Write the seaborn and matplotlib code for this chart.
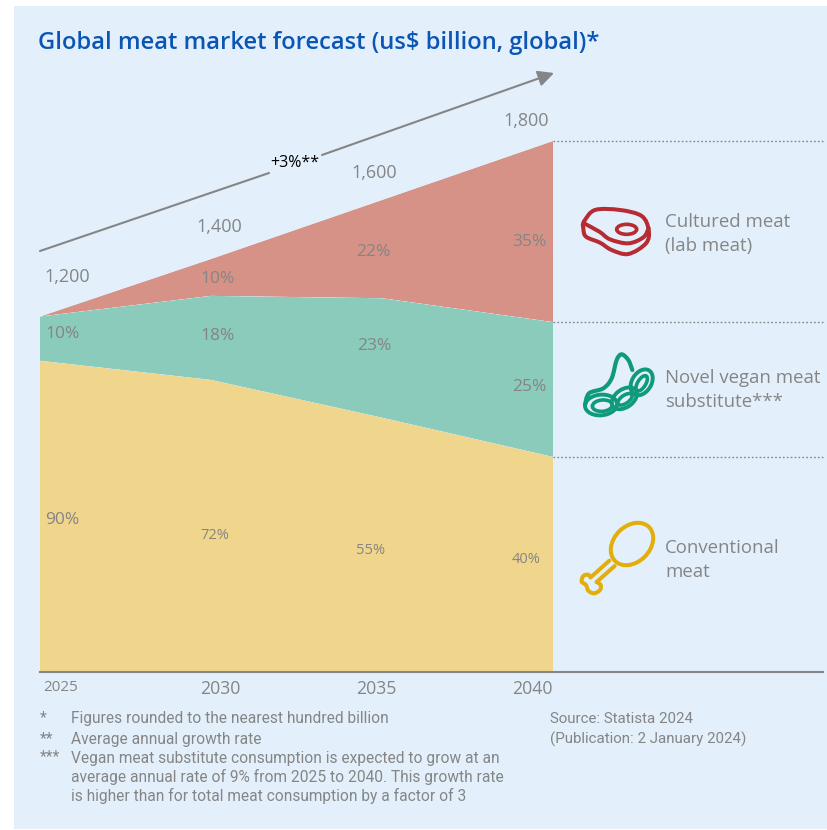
import numpy as np
import pandas as pd
import matplotlib
matplotlib.use("Agg")
import matplotlib.pyplot as plt
from matplotlib.patches import Rectangle, Ellipse, PathPatch
from matplotlib.path import Path
from matplotlib.transforms import ScaledTranslation
import seaborn as sns
import seaborn.objects as so

years = [2025, 2030, 2035, 2040]
year_labels = ["2025", "2030", "2035", "2040"]
conventional = [1055, 990, 862, 729]
vegan = [150, 285, 405, 457]
cultured = [0, 125, 333, 614]
totals = ["1,200", "1,400", "1,600", "1,800"]
pct_conventional = ["90%", "72%", "55%", "40%"]
pct_vegan = ["10%", "18%", "23%", "25%"]
pct_cultured = ["", "10%", "22%", "35%"]
series_names = ["Conventional meat", "Novel vegan meat substitute", "Cultured meat"]
series_colors = ["#F0D58C", "#8ACBBC", "#D69287"]

BG = "#E3F0FC"
GREY = "#858585"
BLUE = "#0B55B5"
W, H = 827, 830
sns.set_theme(style="white")
plt.rcParams["font.family"] = ["Open Sans", "DejaVu Sans"]

fig = plt.figure(figsize=(W / 100, H / 100), dpi=100, facecolor="white")

bg = fig.add_axes([0, 0, 1, 1], zorder=-1)
bg.set_xlim(0, W); bg.set_ylim(H, 0); bg.axis("off")
bg.add_patch(Rectangle((14, 6), W - 14, H - 7, fc=BG, ec="none"))

# chart axes: 2025 at x=40, 2040 at x=553, baseline to x=823
x0, x1, xr, ytop, ybot = 40, 553, 823, 141, 672
ax = fig.add_axes([x0 / W, 1 - ybot / H, (xr - x0) / W, (ybot - ytop) / H], zorder=1)
xmax = 2025 + 15 * (xr - x0) / (x1 - x0)

df = pd.DataFrame({
    "year": years * 3,
    "value": conventional + vegan + cultured,
    "series": np.repeat(series_names, 4),
})
(so.Plot(df, x="year", y="value", color="series")
   .add(so.Area(alpha=1, edgewidth=0), so.Stack())
   .scale(color=dict(zip(series_names, series_colors)))
   .limit(x=(2025, xmax), y=(0, 1800))
   .on(ax).plot())
fig.legends.clear()
ax.patch.set_alpha(0)

sns.despine(ax=ax, left=True, top=True, right=True)
ax.spines["bottom"].set_color(GREY)
ax.spines["bottom"].set_linewidth(1.5)
ax.set_xlabel(""); ax.set_ylabel("")
ax.set_yticks([])
ax.grid(False)
ax.set_xticks(years, year_labels)
ax.tick_params(axis="x", length=0, pad=6, labelcolor=GREY, labelsize=12.5)
offsets = [21, 9, -6, -21]
sizes = [11, 12.7, 12.7, 12.7]
for lab, dx, s in zip(ax.get_xticklabels(), offsets, sizes):
    lab.set_transform(lab.get_transform() + ScaledTranslation(dx / 100, 0, fig.dpi_scale_trans))
    lab.set_fontsize(s)

# dotted leader lines at the 2040 stack tops
tops = np.cumsum([conventional[-1], vegan[-1], cultured[-1]])
ax.hlines(tops, 2040, xmax, colors=GREY, linestyles=(0, (1.2, 1.6)), lw=1, clip_on=False)

# overlay in reference pixel coordinates for annotations and icons
ov = fig.add_axes([0, 0, 1, 1], zorder=2)
ov.set_xlim(0, W); ov.set_ylim(H, 0); ov.axis("off")

def label(xpx, ypx, s, size=12.5, color=GREY, **kw):
    ov.text(xpx, ypx + 1.5, s, fontsize=size, color=color, va="center", zorder=5, **kw)

for xp, yp, s in zip([44, 196, 351, 503], [275, 225, 171, 120], totals):
    label(xp, yp, s, 13)
for xp, yp, s, sz in zip([45, 200, 356, 512], [518, 534, 549, 558], pct_conventional, [12.5, 10.5, 10.5, 10.5]):
    label(xp, yp, s, sz)
for xp, yp, s in zip([45, 200, 357, 512], [332, 334, 344, 385], pct_vegan):
    label(xp, yp, s)
for xp, yp, s in zip([200, 356, 512], [277, 250, 240], pct_cultured[1:]):
    label(xp, yp, s)

# title
ov.text(38, 43, "Global meat market forecast (us$ billion, global)*", fontsize=17.15,
        color=BLUE, fontweight="semibold", va="center")

# growth arrow, broken around its label
ov.plot([40, 269], [251, 173], color=GREY, lw=1.5)
ov.annotate("", xy=(554, 73), xytext=(322, 155),
            arrowprops=dict(arrowstyle="-|>,head_length=0.8,head_width=0.4", color=GREY, lw=1.5,
                            shrinkA=0, shrinkB=0))
ov.text(270, 163, "+3%**", fontsize=11.5, color="black", va="center")

# category labels
label(665, 220, "Cultured meat", 13.4)
label(665, 244, "(lab meat)", 13.4)
label(665, 376, "Novel vegan meat", 13.4)
label(665, 400, "substitute***", 13.4)
label(665, 546, "Conventional", 13.4)
label(665, 570, "meat", 13.4)

# footnotes
fn = dict(fontsize=11.2, color=GREY, family=["Roboto", "DejaVu Sans"], va="center")
src = dict(fn, fontsize=10.9)
ov.text(40, 718, "*", **fn)
ov.text(40, 739, "**", **fn)
ov.text(40, 757, "***", **fn)
ov.text(71, 718, "Figures rounded to the nearest hundred billion", **fn)
ov.text(71, 739, "Average annual growth rate", **fn)
ov.text(71, 758, "Vegan meat substitute consumption is expected to grow at an", **fn)
ov.text(71, 777, "average annual rate of 9% from 2025 to 2040. This growth rate", **fn)
ov.text(71, 796, "is higher than for total meat consumption by a factor of 3", **fn)
ov.text(550, 719, "Source: Statista 2024", **src)
ov.text(550, 739, "(Publication: 2 January 2024)", **src)

# icons
def smooth(points, closed=False):
    p = np.asarray(points, float)
    n = len(p)
    verts = [p[0]]; codes = [Path.MOVETO]
    rng = range(n if closed else n - 1)
    for i in rng:
        p0 = p[(i - 1) % n] if closed or i > 0 else p[i]
        p1, p2 = p[i], p[(i + 1) % n]
        p3 = p[(i + 2) % n] if closed or i + 2 < n else p2
        verts += [p1 + (p2 - p0) / 6, p2 - (p3 - p1) / 6, p2]
        codes += [Path.CURVE4] * 3
    return Path(verts, codes)

def curve(points, color, lw=2.9, closed=False):
    ov.add_patch(PathPatch(smooth(points, closed), fc="none", ec=color, lw=lw, capstyle="round", zorder=4))

def z(ox, oy, pts):
    return [(ox + a / 3, oy + b / 3) for a, b in pts]

RED, GREEN, GOLD = "#B72B33", "#0F9A7A", "#E2AE0C"
# steak
curve(z(560, 180, [(72, 125), (105, 90), (180, 90), (245, 108), (266, 150), (258, 190),
                   (205, 222), (155, 210), (120, 188), (78, 170), (70, 145)]), RED, closed=True)
curve(z(560, 180, [(72, 130), (118, 155), (150, 178), (205, 190), (250, 172), (266, 145)]), RED)
ov.add_patch(Ellipse((560 + 200 / 3, 180 + 148 / 3), 20, 10, fc="none", ec=RED, lw=2.6, zorder=4))
# beans
curve(z(575, 345, [(30, 180), (42, 145), (85, 130), (110, 100), (125, 45), (140, 28), (160, 45), (172, 75)]), GREEN, lw=3)
for cx, cy, w, h, ang in [(78, 180, 96, 62, -5), (148, 160, 84, 54, -35), (200, 112, 84, 58, -58)]:
    ov.add_patch(Ellipse((575 + cx / 3, 345 + cy / 3), w / 3, h / 3, angle=ang, fc="none", ec=GREEN, lw=2.8, zorder=4))
for cx, cy, w, h, ang in [(82, 182, 60, 34, -5), (150, 163, 50, 24, -35), (200, 115, 52, 24, -58)]:
    ov.add_patch(Ellipse((575 + cx / 3, 345 + cy / 3), w / 3, h / 3, angle=ang, fc="none", ec=GREEN, lw=2.6, zorder=4))
# drumstick
ov.add_patch(Ellipse((560 + 216 / 3, 500 + 132 / 3), 48, 36, angle=-45, fc="none", ec=GOLD, lw=2.9, zorder=4))
curve(z(560, 500, [(148, 182), (92, 232)]), GOLD)
curve(z(560, 500, [(164, 198), (110, 246)]), GOLD)
curve(z(560, 500, [(92, 232), (84, 224), (70, 228), (65, 245), (78, 255), (85, 272), (102, 280), (120, 270), (122, 255), (110, 246)]), GOLD)

fig.savefig("out.png", dpi=100, facecolor="white")
